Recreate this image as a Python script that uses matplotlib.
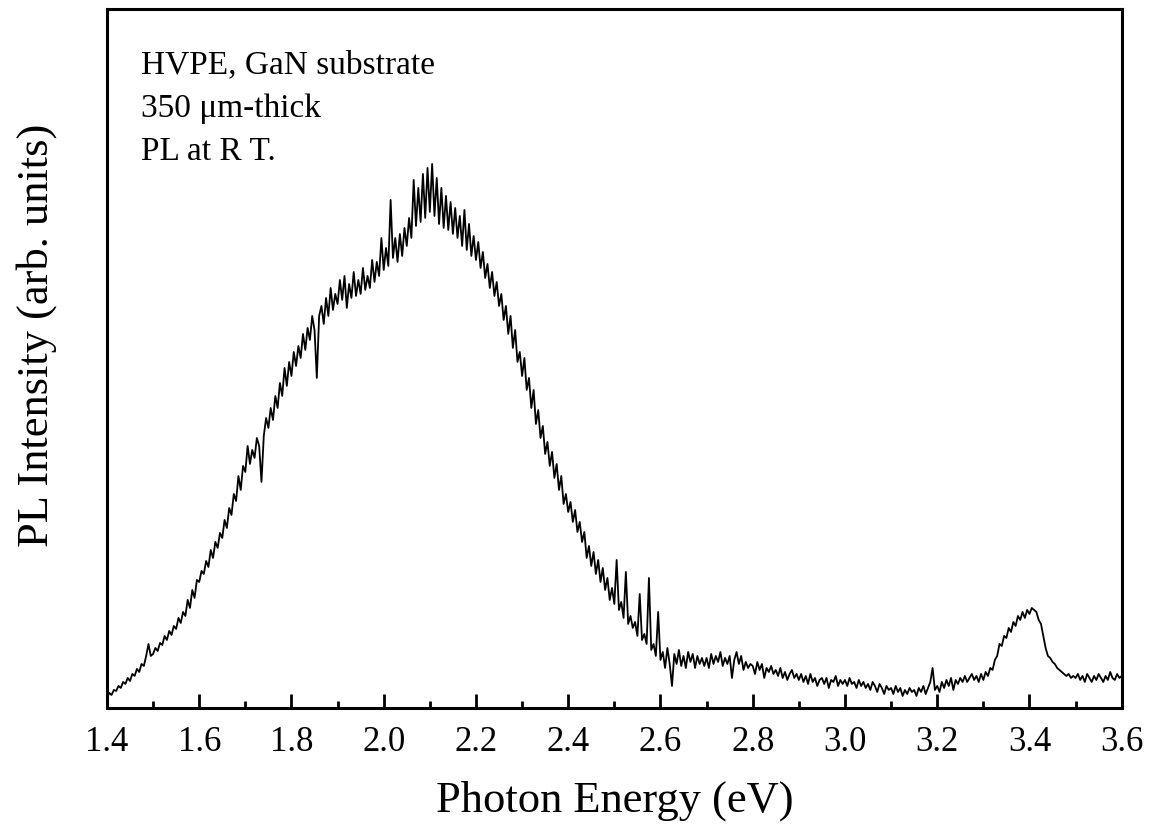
import matplotlib.pyplot as plt
import numpy as np

# photon energy grid, 1.40 .. 3.60 eV in 0.005 eV steps (one row below = 0.1 eV)
e_start = 1.40
e_step = 0.005

intensity = [
    # 1.40 - 1.495
    10, 15, 13, 18, 17, 22, 20, 26, 24, 30, 27, 34, 32, 39, 36, 44, 42, 52, 64, 52,
    # 1.50 - 1.595
    54, 60, 57, 65, 63, 72, 68, 77, 73, 82, 79, 90, 85, 96, 92, 108, 100, 118, 110, 128,
    # 1.60 - 1.695
    126, 137, 134, 147, 141, 158, 150, 166, 160, 175, 170, 188, 180, 200, 193, 214, 207, 232, 218, 242,
    # 1.70 - 1.795
    236, 262, 244, 258, 250, 270, 262, 226, 272, 290, 280, 300, 288, 312, 300, 325, 312, 340, 322, 346,
    # 1.80 - 1.895
    332, 356, 342, 362, 350, 374, 358, 380, 368, 392, 378, 330, 392, 402, 384, 410, 392, 420, 398, 414,
    # 1.90 - 1.995
    404, 428, 408, 432, 400, 424, 410, 436, 412, 428, 414, 440, 418, 432, 420, 448, 426, 446, 432, 470,
    # 2.00 - 2.095
    438, 460, 442, 508, 450, 470, 446, 474, 452, 480, 462, 490, 470, 528, 482, 520, 486, 534, 490, 540,
    # 2.10 - 2.195
    496, 544, 492, 530, 484, 520, 480, 512, 478, 506, 474, 500, 470, 492, 462, 498, 458, 484, 452, 472,
    # 2.20 - 2.295
    448, 466, 440, 456, 430, 444, 420, 436, 412, 426, 402, 414, 388, 402, 374, 392, 360, 378, 346, 356,
    # 2.30 - 2.395
    332, 350, 318, 330, 300, 318, 284, 298, 270, 282, 254, 266, 242, 256, 230, 244, 218, 232, 204, 214,
    # 2.40 - 2.495
    196, 206, 186, 198, 176, 186, 166, 176, 150, 162, 142, 156, 134, 148, 126, 140, 118, 130, 108, 120,
    # 2.50 - 2.595
    104, 148, 98, 106, 90, 136, 84, 92, 80, 86, 72, 114, 68, 74, 64, 130, 58, 64, 52, 96,
    # 2.60 - 2.695
    48, 56, 40, 60, 44, 22, 54, 44, 58, 42, 52, 40, 56, 46, 54, 40, 52, 44, 50, 42,
    # 2.70 - 2.795
    50, 40, 54, 44, 52, 46, 56, 42, 50, 44, 52, 30, 48, 56, 44, 52, 38, 46, 40, 44,
    # 2.80 - 2.895
    42, 34, 46, 38, 44, 30, 40, 36, 42, 34, 38, 32, 40, 30, 36, 28, 34, 38, 30, 34,
    # 2.90 - 2.995
    28, 34, 26, 32, 24, 34, 26, 30, 22, 28, 30, 24, 30, 20, 28, 26, 32, 22, 28, 24,
    # 3.00 - 3.095
    28, 22, 30, 24, 26, 20, 28, 22, 26, 20, 24, 18, 26, 22, 16, 24, 20, 14, 22, 18,
    # 3.10 - 3.195
    20, 14, 22, 16, 20, 12, 18, 14, 20, 16, 18, 12, 20, 16, 22, 14, 20, 26, 40, 18,
    # 3.20 - 3.295
    22, 16, 26, 20, 28, 22, 30, 18, 28, 24, 30, 26, 32, 26, 30, 34, 28, 32, 26, 34,
    # 3.30 - 3.395
    28, 36, 32, 40, 38, 48, 52, 64, 62, 72, 70, 80, 76, 86, 82, 92, 88, 96, 90, 98,
    # 3.40 - 3.495
    94, 100, 98, 96, 88, 84, 72, 60, 52, 50, 46, 44, 40, 38, 36, 34, 32, 34, 30, 32,
    # 3.50 - 3.60
    30, 34, 28, 32, 26, 34, 30, 26, 32, 28, 34, 30, 26, 32, 28, 36, 30, 28, 34, 30,
    32,
]

energy = e_start + e_step * np.arange(len(intensity))

notes = ['HVPE, GaN substrate', '350 \u03bcm-thick', 'PL at R T.']

plt.rcParams['font.family'] = ['Liberation Serif', 'DejaVu Serif']

fig = plt.figure(figsize=(11.6, 8.29), dpi=100)
ax = fig.add_axes([0.0922, 0.1448, 0.8748, 0.8432])

ax.plot(energy, intensity, color='black', lw=1.3)

ax.set_xlim(1.4, 3.6)
ax.set_ylim(0, 699)

ax.set_xticks(np.arange(1.4, 3.61, 0.2))
ax.set_xticks(np.arange(1.5, 3.6, 0.2), minor=True)
ax.set_xticklabels(['%.1f' % t for t in np.arange(1.4, 3.61, 0.2)])
ax.set_yticks([])

ax.tick_params(axis='x', which='major', direction='in', length=10, width=2,
               labelsize=25, pad=12, top=False)
ax.tick_params(axis='x', which='minor', direction='in', length=5, width=2, top=False)

for s in ax.spines.values():
    s.set_linewidth(2.2)

ax.set_xlabel('Photon Energy (eV)', fontsize=32, labelpad=16)
ax.set_ylabel('PL Intensity (arb. units)', fontsize=32)
ax.yaxis.set_label_coords(-0.049, 0.534)

for i, t in enumerate(notes):
    ax.text(0.034, 0.943 - i * 0.062, t, transform=ax.transAxes, fontsize=24,
            va='top', ha='left')

plt.savefig('out.png', dpi=100)
